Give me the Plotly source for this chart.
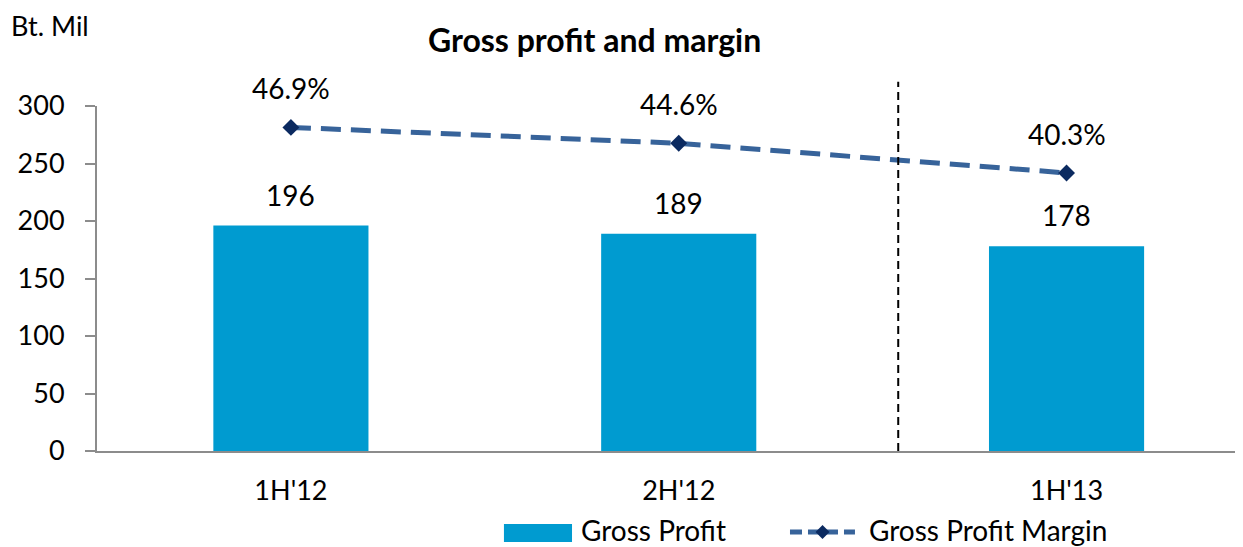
import plotly.graph_objects as go

categories = ["1H'12", "2H'12", "1H'13"]
gross_profit = [196, 189, 178]
gross_margin = [46.9, 44.6, 40.3]
bar_labels = ["196", "189", "178"]
margin_labels = ["46.9%", "44.6%", "40.3%"]
y_ticks = [0, 50, 100, 150, 200, 250, 300]
series_names = ["Gross Profit", "Gross Profit Margin"]

FONT = "Lato, 'Open Sans', sans-serif"
BAR_COLOR = "#009BD0"
LINE_COLOR = "#37639A"
MARKER_COLOR = "#0B2A60"

fig = go.Figure()
fig.add_trace(go.Bar(
    x=categories, y=gross_profit, name=series_names[0],
    marker=dict(color=BAR_COLOR, line=dict(width=0)), width=0.4,
))
fig.add_trace(go.Scatter(
    x=categories, y=gross_margin, name=series_names[1], yaxis="y2",
    mode="lines+markers",
    line=dict(color=LINE_COLOR, width=5, dash="20px,10px"),
    marker=dict(symbol="diamond", size=13, color=MARKER_COLOR),
))

for c, v, t in zip(categories, gross_profit, bar_labels):
    fig.add_annotation(x=c, y=v, text=t, showarrow=False, yanchor="bottom",
                       yshift=12, font=dict(size=28, color="black", family=FONT))
for c, v, t in zip(categories, gross_margin, margin_labels):
    fig.add_annotation(x=c, y=v, yref="y2", text=t, showarrow=False, yanchor="bottom",
                       yshift=20, font=dict(size=28, color="black", family=FONT))

fig.add_annotation(x=-0.076, y=1.284, xref="paper", yref="paper", text="Bt. Mil",
                   showarrow=False, xanchor="left", yanchor="top", borderpad=0,
                   font=dict(size=27, color="black", family=FONT))

# divider between periods
fig.add_shape(type="line", xref="x", yref="paper", x0=1.566, x1=1.566, y0=0, y1=1.07,
              line=dict(color="black", width=2, dash="8px,5px"))

# custom legend (paper coordinates)
LEG_Y = -0.229
fig.add_shape(type="rect", xref="paper", yref="paper", x0=0.3551, x1=0.4145,
              y0=-0.2638, y1=-0.2116, line=dict(width=0), fillcolor=BAR_COLOR)
fig.add_annotation(x=0.4215, y=LEG_Y, xref="paper", yref="paper", text=series_names[0],
                   showarrow=False, xanchor="left", yanchor="middle", borderpad=0,
                   font=dict(size=28, color="black", family=FONT))
fig.add_shape(type="line", xref="paper", yref="paper", x0=0.6047, x1=0.6614,
              y0=-0.2348, y1=-0.2348, line=dict(color=LINE_COLOR, width=5, dash="12px,6px"))
cx, cy, hx, hy = 0.6331, -0.2348, 0.0061, 0.0203
fig.add_shape(type="path", xref="paper", yref="paper",
              path=f"M {cx-hx} {cy} L {cx} {cy+hy} L {cx+hx} {cy} L {cx} {cy-hy} Z",
              fillcolor=MARKER_COLOR, line=dict(width=0))
fig.add_annotation(x=0.6728, y=LEG_Y, xref="paper", yref="paper", text=series_names[1],
                   showarrow=False, xanchor="left", yanchor="middle", borderpad=0,
                   font=dict(size=28, color="black", family=FONT))

fig.update_layout(
    width=1235, height=539,
    margin=dict(l=89, r=0, t=98, b=96, autoexpand=False),
    paper_bgcolor="white", plot_bgcolor="white",
    font=dict(family=FONT, size=27, color="black"),
    title=dict(text="<b>Gross profit and margin</b>", x=0.475, xanchor="center",
               y=0.939, yanchor="middle", font=dict(size=32, family=FONT, color="black")),
    xaxis=dict(range=[-0.5, 2.455], showgrid=False, showline=True, linecolor="#8C8C8C",
               linewidth=2, ticks="", ticklabelstandoff=15,
               tickfont=dict(size=27, family=FONT, color="black")),
    yaxis=dict(range=[0, 300], tickvals=y_ticks, showgrid=False, showline=True,
               linecolor="#8C8C8C", linewidth=2, ticks="outside", ticklen=10,
               tickcolor="#8C8C8C", tickwidth=2, ticklabelstandoff=15, zeroline=False,
               tickfont=dict(size=27, family=FONT, color="black")),
    yaxis2=dict(range=[0, 50], overlaying="y", side="right", visible=False),
    showlegend=False,
)

fig.write_html("out.html")
